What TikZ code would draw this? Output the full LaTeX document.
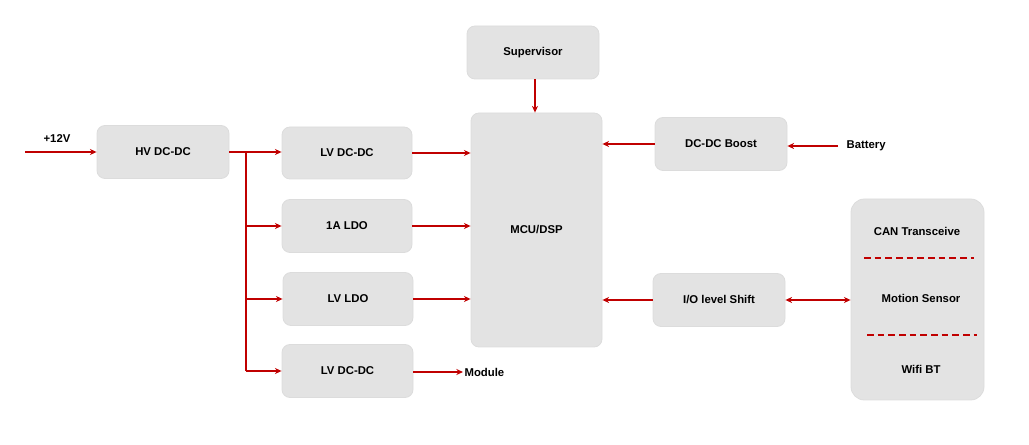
\documentclass[tikz,border=0pt]{standalone}
\usepackage{fontspec}
\setmainfont{Liberation Sans}
\usetikzlibrary{arrows.meta}
\definecolor{boxfill}{HTML}{E3E3E3}
\definecolor{boxline}{HTML}{DCDCDC}
\definecolor{wire}{HTML}{C00000}
\begin{document}
\begin{tikzpicture}[x=0.75pt,y=-0.75pt,
  blk/.style={draw=boxline,fill=boxfill,rounded corners=6pt,line width=0.6pt,font=\bfseries\fontsize{8.5}{10}\selectfont,align=center},
  lbl/.style={font=\bfseries\fontsize{8.5}{10}\selectfont,inner sep=1pt},
  wr/.style={draw=wire,line width=1.5pt,-{Stealth[length=5pt,width=4.5pt]}},
  wrb/.style={draw=wire,line width=1.5pt,{Stealth[length=5pt,width=4.5pt]}-{Stealth[length=5pt,width=4.5pt]}},
  dsh/.style={draw=wire,line width=1.5pt,dash pattern=on 5pt off 3pt}]
\useasboundingbox (0,0) rectangle (1029,445);
% blocks
\node[blk,minimum width=132*0.75pt,minimum height=53*0.75pt] (hv) at (163,152) {HV DC-DC};
\node[blk,minimum width=130*0.75pt,minimum height=52*0.75pt] (lv1) at (347,153) {LV DC-DC};
\node[blk,minimum width=130*0.75pt,minimum height=53*0.75pt] (ldo1) at (347,226) {1A LDO};
\node[blk,minimum width=130*0.75pt,minimum height=53*0.75pt] (lvldo) at (348,299) {LV LDO};
\node[blk,minimum width=131*0.75pt,minimum height=53*0.75pt] (lv2) at (347.5,371) {LV DC-DC};
\node[blk,minimum width=132*0.75pt,minimum height=53*0.75pt] (sup) at (533,52.5) {Supervisor};
\node[blk,minimum width=131*0.75pt,minimum height=234*0.75pt] (mcu) at (536.5,230) {MCU/DSP};
\node[blk,minimum width=132*0.75pt,minimum height=53*0.75pt] (boost) at (721,144) {DC-DC Boost};
\node[blk,minimum width=132*0.75pt,minimum height=53*0.75pt] (io) at (719,300) {I/O level Shift};
\node[blk,minimum width=133*0.75pt,minimum height=201*0.75pt,rounded corners=10pt] (per) at (917.5,299.5) {};
\node[lbl] (can) at (917,231) {CAN Transceive};
\node[lbl] (mot) at (921,298) {Motion Sensor};
\node[lbl] (wifi) at (921,369) {Wifi BT};
\coordinate (d1a) at (864,258); \coordinate (d1b) at (974,258);
\coordinate (d2a) at (867,335); \coordinate (d2b) at (977,335);
\draw[dsh] (d1a) -- (d1b);
\draw[dsh] (d2a) -- (d2b);
% labels
\node[lbl] (v12) at (57,139) {+12V};
\node[lbl,anchor=west] (mod) at (463,372) {Module};
\node[lbl,anchor=west] (bat) at (845,146) {Battery};
\coordinate (in12) at (25,152);
\coordinate (br) at (246,152);
\coordinate (batin) at (838,146);
% connectors
\draw[wr] (in12) -- (hv.west |- in12);
\draw[wr] (hv.east |- br) -- (lv1.west |- br);
\draw[draw=wire,line width=1.5pt] (br) -- (246,371);
\draw[wr] (246,226) -- (ldo1.west);
\draw[wr] (246,299) -- (lvldo.west);
\draw[wr] (246,371) -- (lv2.west);
\draw[wr] (lv1.east) -- (mcu.west |- lv1.east);
\draw[wr] (ldo1.east) -- (mcu.west |- ldo1.east);
\draw[wr] (lvldo.east) -- (mcu.west |- lvldo.east);
\draw[wr] (lv2.east |- 0,372) -- (mod.west);
\draw[wr] (sup.south -| 535,0) -- (mcu.north -| 535,0);
\draw[wr] (boost.west) -- (mcu.east |- boost.west);
\draw[wr] (batin) -- (boost.east |- batin);
\draw[wr] (io.west) -- (mcu.east |- io.west);
\draw[wrb] (io.east) -- (per.west |- io.east);
\end{tikzpicture}
\end{document}
